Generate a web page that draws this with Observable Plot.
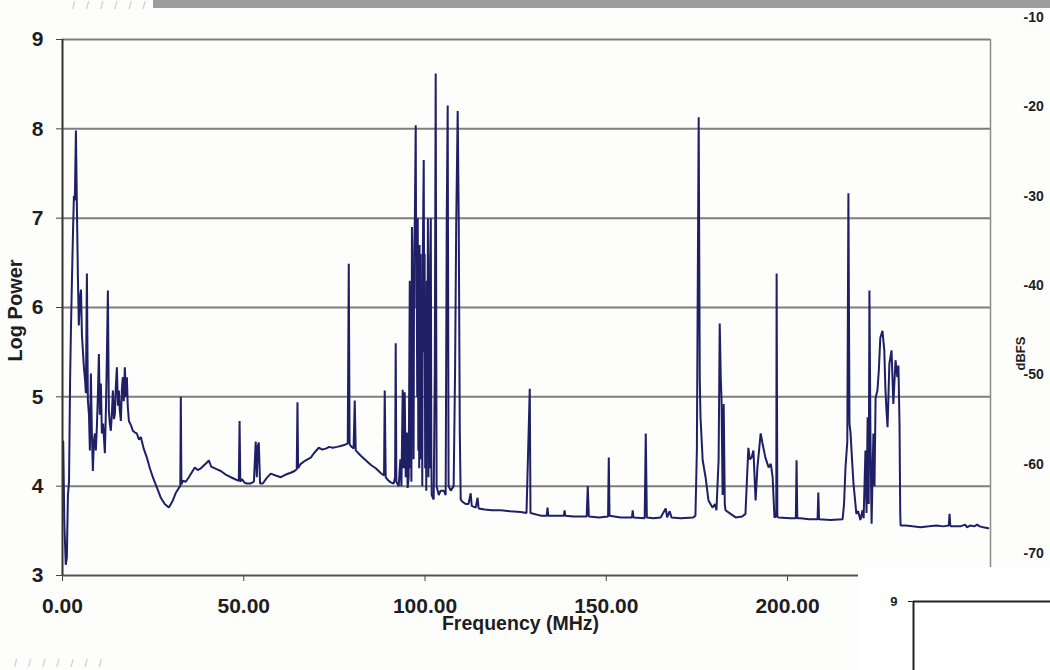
<!DOCTYPE html>
<html>
<head>
<meta charset="utf-8">
<script src="https://cdn.jsdelivr.net/npm/d3@7"></script>
<script src="https://cdn.jsdelivr.net/npm/@observablehq/plot@0.6"></script>
<style>
html,body{margin:0;padding:0;background:#fdfdfc;width:1050px;height:670px;overflow:hidden;font-family:"Liberation Sans",Arial,sans-serif}
#wrap{position:relative;width:1050px;height:670px}
#chart{position:absolute;left:0;top:0}
#bar{position:absolute;left:153px;top:0;width:897px;height:8px;background:#9d9d9d}
.marks{position:absolute;color:#c2c2c2;font-size:11px;letter-spacing:4px;white-space:pre;line-height:11px}
#inset{position:absolute;left:858px;top:567px;width:192px;height:103px;background:#fff}
</style>
</head>
<body>
<div id="wrap">
  <div id="chart"></div>
  <div id="bar"></div>
  <div class="marks" style="left:72px;top:0px">/ / / / / /</div>
  <div class="marks" style="left:14px;top:658px">/ / / / / / /</div>
  <div id="inset"></div>
</div>
<script>
// Spectrum trace: [frequency (MHz), log power]
const spectrum = [
[0.2,4.5],[0.5,3.6],[0.9,3.12],[1.2,3.2],[1.5,3.9],[1.8,4.05],[2.1,5.2],[2.35,5.8],[2.6,6.3],[2.9,6.85],
[3.15,7.25],[3.4,7.2],[3.7,7.98],[3.95,7.2],[4.25,6.34],[4.5,5.8],[4.8,6.1],[5.1,6.2],[5.35,5.7],[5.65,5.5],
[5.9,5.33],[6.2,5.2],[6.45,5.04],[6.73,6.38],[7.0,4.96],[7.3,4.8],[7.55,4.4],[7.83,5.26],[8.1,4.6],[8.38,4.17],
[8.65,4.5],[8.93,4.59],[9.2,4.4],[9.48,4.66],[9.75,5.0],[10.04,5.48],[10.3,4.8],[10.59,5.15],[10.86,4.59],[11.2,4.7],
[11.69,4.37],[12.0,4.9],[12.24,5.44],[12.52,6.19],[12.79,4.85],[13.05,4.7],[13.34,4.62],[13.6,4.8],[13.9,5.07],[14.2,4.75],
[14.45,4.81],[14.7,5.1],[15.0,5.33],[15.3,4.9],[15.55,5.07],[15.8,4.85],[16.1,4.73],[16.4,5.1],[16.65,5.22],[16.9,4.95],
[17.2,5.33],[17.5,5.0],[17.76,5.22],[18.0,4.9],[18.31,4.73],[18.9,4.68],[19.41,4.62],[20.0,4.6],[20.51,4.59],[21.1,4.52],
[21.62,4.55],[22.4,4.42],[23.27,4.32],[24.1,4.2],[24.92,4.1],[26.0,3.99],[27.13,3.87],[28.2,3.8],[29.33,3.76],[29.9,3.8],
[30.44,3.84],[31.2,3.92],[32.09,3.98],[32.5,4.0],[32.64,5.0],[32.8,4.02],[33.19,4.06],[34.0,4.05],[34.85,4.1],[35.6,4.15],
[36.5,4.21],[37.3,4.18],[38.16,4.2],[39.2,4.24],[40.0,4.27],[40.36,4.29],[41.0,4.22],[41.47,4.21],[42.5,4.19],[43.67,4.17],
[45.0,4.13],[46.43,4.1],[47.5,4.08],[48.63,4.06],[48.85,4.73],[49.05,4.05],[49.5,4.08],[50.2,4.04],[50.84,4.03],[51.94,4.03],
[52.8,4.05],[53.3,4.5],[53.6,4.1],[53.9,4.45],[54.15,4.49],[54.5,4.03],[55.25,4.03],[56.3,4.09],[57.45,4.14],[58.8,4.12],
[60.21,4.1],[61.6,4.13],[62.97,4.15],[64.0,4.17],[64.62,4.19],[64.82,4.94],[65.0,4.2],[65.73,4.25],[67.1,4.29],[68.49,4.32],
[69.6,4.38],[70.69,4.43],[71.7,4.41],[72.62,4.42],[73.6,4.44],[74.55,4.43],[75.7,4.44],[76.76,4.45],[77.7,4.46],[78.69,4.48],
[78.97,6.49],[79.2,4.47],[79.52,4.45],[80.3,4.42],[80.62,4.96],[80.89,4.4],[82.3,4.34],[83.65,4.29],[85.0,4.24],[86.41,4.2],
[87.7,4.15],[88.7,4.12],[88.89,5.07],[89.16,4.1],[89.99,4.06],[90.7,4.04],[91.37,4.03],[91.75,4.1],[91.92,5.6],[92.1,4.05],
[92.75,4.0],[93.2,4.3],[93.5,4.0],[93.85,5.08],[94.1,4.2],[94.4,5.05],[94.68,4.1],[95.0,4.6],[95.2,3.98],[95.5,4.1],
[95.8,6.3],[95.95,4.2],[96.1,6.0],[96.25,4.05],[96.4,6.9],[96.55,4.6],[96.7,6.2],[96.85,4.3],[97.0,6.6],[97.2,7.0],
[97.44,8.04],[97.6,6.0],[97.7,6.6],[97.85,5.0],[98.0,7.0],[98.15,4.4],[98.3,6.5],[98.4,4.2],[98.5,6.7],[98.65,5.2],
[98.8,6.6],[98.95,4.3],[99.1,6.2],[99.25,4.0],[99.4,6.6],[99.65,7.65],[99.8,5.5],[99.9,6.6],[100.05,4.2],[100.2,6.0],
[100.35,3.95],[100.5,6.3],[100.65,4.5],[100.8,7.0],[100.95,4.1],[101.1,6.2],[101.25,4.2],[101.4,6.5],[101.6,7.0],[101.75,4.3],
[101.85,3.9],[102.4,3.85],[102.7,5.3],[102.95,8.62],[103.2,4.0],[103.8,3.9],[104.3,3.95],[105.2,3.95],[105.7,3.9],
[106.0,7.0],[106.26,8.26],[106.5,4.0],[107.1,3.95],[107.9,4.0],[108.3,5.3],[108.6,6.9],[109.02,8.2],[109.3,7.0],[109.6,4.6],
[109.85,3.85],[110.5,3.82],[111.3,3.8],[112.0,3.8],[112.6,3.92],[112.9,3.78],[114.0,3.76],[114.5,3.87],[114.8,3.75],[116.5,3.74],
[118.5,3.73],[120.9,3.73],[123.5,3.72],[126.4,3.71],[128.0,3.7],[128.9,5.09],[129.1,3.7],[131.9,3.67],[133.6,3.67],[133.8,3.76],
[134.0,3.67],[136.0,3.67],[138.3,3.67],[138.5,3.73],[138.7,3.67],[141.0,3.66],[144.6,3.66],[144.9,4.0],[145.2,3.66],[148.0,3.65],
[150.5,3.66],[150.7,4.32],[150.9,3.67],[154.0,3.65],[157.1,3.65],[157.3,3.73],[157.5,3.65],[160.6,3.64],[160.9,4.59],[161.2,3.65],
[163.0,3.64],[165.0,3.65],[166.4,3.75],[166.8,3.65],[167.5,3.72],[168.0,3.65],[170.5,3.64],[174.0,3.65],[174.6,3.67],[175.0,4.4],
[175.5,8.13],[175.8,5.2],[176.0,4.77],[176.6,4.29],[177.4,4.1],[178.2,3.84],[179.3,3.76],[180.0,3.8],[180.4,3.73],[181.0,4.3],
[181.3,5.82],[181.6,5.2],[181.8,4.96],[182.1,3.9],[182.4,4.92],[182.7,3.8],[182.9,3.73],[184.3,3.69],[185.7,3.65],[187.5,3.66],
[188.4,3.69],[189.2,4.43],[189.6,4.3],[190.1,4.32],[190.6,4.4],[191.2,3.84],[191.7,4.21],[192.6,4.59],[193.1,4.48],[193.9,4.32],
[194.8,4.21],[195.4,4.25],[195.9,4.1],[196.4,3.65],[196.9,3.66],[197.0,6.38],[197.2,3.66],[197.5,3.65],[200.8,3.64],[202.3,3.64],
[202.5,4.29],[202.7,3.64],[203.6,3.64],[206.0,3.63],[208.3,3.63],[208.5,3.93],[208.7,3.63],[211.9,3.62],[215.2,3.63],[215.6,3.8],
[216.0,4.21],[216.5,4.5],[216.8,7.28],[217.1,4.7],[217.4,4.59],[217.8,4.3],[218.2,4.03],[219.0,3.69],[219.5,3.72],[220.1,3.62],
[220.7,3.73],[221.0,3.64],[221.5,4.4],[221.8,3.7],[222.1,4.77],[222.4,3.8],[222.6,6.19],[222.9,4.5],[223.2,3.58],[223.5,4.2],
[223.7,4.59],[224.0,4.0],[224.3,4.99],[224.8,5.07],[225.2,5.3],[225.6,5.66],[226.2,5.74],[226.7,5.52],[227.0,5.1],[227.3,4.85],
[227.6,4.66],[228.1,5.37],[228.7,5.52],[229.2,4.92],[229.8,5.41],[230.3,5.22],[230.6,5.35],[230.9,4.7],[231.1,3.7],[231.2,3.56],
[232.5,3.56],[234.5,3.55],[236.7,3.54],[239.0,3.55],[241.1,3.56],[243.0,3.55],[244.5,3.56],[244.7,3.69],[244.9,3.56],[245.2,3.55],
[247.7,3.55],[249.0,3.57],[249.5,3.54],[250.5,3.56],[251.5,3.55],[252.3,3.57],[253.0,3.55],[254.0,3.54],[255.4,3.53]
];

const yTicks = [3, 4, 5, 6, 7, 8, 9];
const xTicks = [0, 50, 100, 150, 200];
const dbfsTicks = [-10, -20, -30, -40, -50, -60, -70];
const insetTicks = [9];
const dbfsOffset = 102.46; // dBFS = 10 * logPower - offset

const data = spectrum.map(([f, p]) => ({f, p}));
const font = "'Liberation Sans', Arial, sans-serif";

const chart = Plot.plot({
  width: 1050, height: 670,
  marginLeft: 62, marginRight: 60, marginTop: 39, marginBottom: 95,
  x: {domain: [0, 256]},
  y: {domain: [3, 9]},
  style: {fontFamily: font, background: "transparent", color: "#1e1e1e", overflow: "visible"},
  marks: [
    Plot.ruleY(yTicks.filter(v => v > 3), {stroke: "#7e7e7e", strokeWidth: 2}),
    Plot.ruleX([256], {stroke: "#8c8c8c", strokeWidth: 1.5}),
    Plot.line(data, {x: "f", y: "p", stroke: "#1f1f66", strokeWidth: 2, strokeLinejoin: "miter"}),
    Plot.ruleY([3], {stroke: "#555", strokeWidth: 2}),
    Plot.ruleX([0], {stroke: "#333", strokeWidth: 2}),
    Plot.axisY({ticks: yTicks, tickFormat: d => String(d), tickSize: 6, tickPadding: 13, fontSize: 21, fontWeight: "bold", label: null, stroke: "#444"}),
    Plot.axisX({ticks: xTicks, tickFormat: d => d.toFixed(2), tickSize: 6, tickPadding: 17, fontSize: 21, fontWeight: "bold", label: null, stroke: "#444"}),
    Plot.text(dbfsTicks, {y: d => (d + dbfsOffset) / 10, text: d => String(d), frameAnchor: "right", dx: 33, textAnchor: "start", fontSize: 14, fontWeight: "bold"}),
    Plot.text(["Log Power"], {text: d => d, frameAnchor: "left", dx: -47, dy: 3, rotate: -90, textAnchor: "middle", lineAnchor: "middle", fontSize: 20, fontWeight: "bold"}),
    Plot.text(["Frequency (MHz)"], {text: d => d, frameAnchor: "bottom", dy: 48, dx: -6, textAnchor: "middle", lineAnchor: "middle", fontSize: 19.5, fontWeight: "bold"}),
    Plot.text(["dBFS"], {text: d => d, frameAnchor: "right", dx: 30, dy: 46, rotate: -90, textAnchor: "middle", lineAnchor: "middle", fontSize: 13, fontWeight: "bold"})
  ]
});
document.getElementById("chart").appendChild(chart);

const inset = Plot.plot({
  width: 192, height: 103,
  marginLeft: 55, marginTop: 34, marginRight: 0, marginBottom: 0,
  x: {domain: [0, 1], axis: null},
  y: {domain: [0, 9], axis: null},
  style: {fontFamily: font, background: "#fff", color: "#1e1e1e", overflow: "visible"},
  marks: [
    Plot.ruleY(insetTicks, {stroke: "#222", strokeWidth: 2}),
    Plot.ruleX([0], {stroke: "#222", strokeWidth: 2}),
    Plot.axisY({ticks: insetTicks, tickFormat: d => String(d), tickSize: 5, tickPadding: 11, fontSize: 13, fontWeight: "bold", label: null})
  ]
});
document.getElementById("inset").appendChild(inset);
</script>
</body>
</html>
